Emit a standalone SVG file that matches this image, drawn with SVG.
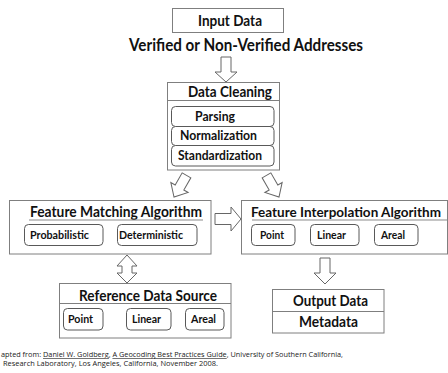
<svg xmlns="http://www.w3.org/2000/svg" width="448" height="373" viewBox="0 0 448 373">
<style>
.box{fill:#fff;stroke:#7f7f7f;stroke-width:1}
.inner{fill:#fff;stroke:#595959;stroke-width:1}
.div{stroke:#7f7f7f;stroke-width:1}
.arr{fill:#fff;stroke:#666;stroke-width:1;stroke-linejoin:miter}
.t{font-family:Lato,"Liberation Sans",sans-serif;font-weight:bold;fill:#111}
.big{font-size:15px}
.mid{font-size:13px}
.sm{font-size:11.5px}
.foot{font-family:"Open Sans","Liberation Sans",sans-serif;font-size:6.3px;fill:#222}
.ul{stroke:#8c8c8c;stroke-width:1.2}
</style>
<rect width="448" height="373" fill="#fff"/>
<g id="connectors">
<polygon class="arr" points="221,57 231,57 231,72 237,72 226,82 215,72 221,72"/>
<polygon class="arr" transform="translate(174,197) rotate(30)" points="-5,-25 5,-25 5,-11 10,-11 0,0 -10,-11 -5,-11"/>
<polygon class="arr" transform="translate(279,197) rotate(-30)" points="-5,-25 5,-25 5,-11 10,-11 0,0 -10,-11 -5,-11"/>
<polygon class="arr" points="215,213.5 231,213.5 231,207 241,219 231,231 231,224.5 215,224.5"/>
<polygon class="arr" points="127,255 137,266 132,266 132,273 137,273 127,283 117,273 122,273 122,266 117,266"/>
<polygon class="arr" points="320,258 330,258 330,273 336,273 325,284 314,273 320,273"/>
</g>
<g id="input-data">
<rect class="box" x="172.5" y="8.5" width="111" height="24"/>
<text class="t big" x="198" y="26" textLength="64" lengthAdjust="spacingAndGlyphs">Input Data</text>
</g>
<g id="addresses-label">
<text class="t" font-size="16.5" x="129" y="51" textLength="234" lengthAdjust="spacingAndGlyphs">Verified or Non-Verified Addresses</text>
</g>
<g id="data-cleaning">
<rect class="box" x="167.5" y="82.5" width="112" height="87.5"/>
<line class="div" x1="167.5" y1="100.5" x2="279.5" y2="100.5"/>
<text class="t big" x="188" y="97" textLength="84" lengthAdjust="spacingAndGlyphs">Data Cleaning</text>
<rect class="inner" x="171.5" y="106.5" width="102.5" height="20" rx="4"/>
<text class="t mid" x="195" y="120.5" textLength="40" lengthAdjust="spacingAndGlyphs">Parsing</text>
<rect class="inner" x="171.5" y="126.5" width="102.5" height="19" rx="4"/>
<text class="t mid" x="180" y="139.5" textLength="77" lengthAdjust="spacingAndGlyphs">Normalization</text>
<rect class="inner" x="171.5" y="145.5" width="102.5" height="20.5" rx="4"/>
<text class="t mid" x="178" y="159.5" textLength="84" lengthAdjust="spacingAndGlyphs">Standardization</text>
</g>
<g id="feature-matching">
<rect class="box" x="9.5" y="200.5" width="201.5" height="53.5"/>
<text class="t big" x="30" y="216.5" textLength="172" lengthAdjust="spacingAndGlyphs">Feature Matching Algorithm</text>
<line class="ul" x1="29" y1="220" x2="203" y2="220"/>
<rect class="inner" x="24.5" y="224.5" width="78.5" height="21" rx="4"/>
<text class="t sm" x="30" y="239" textLength="59" lengthAdjust="spacingAndGlyphs">Probabilistic</text>
<rect class="inner" x="117.5" y="224.5" width="79.5" height="21" rx="4"/>
<text class="t sm" x="119" y="239" textLength="64" lengthAdjust="spacingAndGlyphs">Deterministic</text>
</g>
<g id="feature-interpolation">
<rect class="box" x="241.5" y="200.5" width="206" height="53.5"/>
<text class="t" font-size="13.5" x="251" y="216.5" textLength="190" lengthAdjust="spacingAndGlyphs">Feature Interpolation Algorithm</text>
<line class="ul" x1="252" y1="220" x2="447" y2="220"/>
<rect class="inner" x="251.5" y="224.5" width="43.5" height="21" rx="4"/>
<text class="t sm" x="260" y="239" textLength="24" lengthAdjust="spacingAndGlyphs">Point</text>
<rect class="inner" x="310.5" y="224.5" width="48.5" height="21" rx="4"/>
<text class="t sm" x="317" y="239" textLength="29" lengthAdjust="spacingAndGlyphs">Linear</text>
<rect class="inner" x="374.5" y="224.5" width="43.5" height="21" rx="4"/>
<text class="t sm" x="381" y="239" textLength="24" lengthAdjust="spacingAndGlyphs">Areal</text>
</g>
<g id="reference-data-source">
<rect class="box" x="59.5" y="283.5" width="171.5" height="54.5"/>
<line class="div" x1="59.5" y1="303.5" x2="231" y2="303.5"/>
<text class="t big" x="79" y="300.5" textLength="138" lengthAdjust="spacingAndGlyphs">Reference Data Source</text>
<rect class="inner" x="63.5" y="308.5" width="39.5" height="21.5" rx="4"/>
<text class="t sm" x="68" y="322.5" textLength="25" lengthAdjust="spacingAndGlyphs">Point</text>
<rect class="inner" x="126.5" y="308.5" width="44.5" height="21.5" rx="4"/>
<text class="t sm" x="132" y="322.5" textLength="29" lengthAdjust="spacingAndGlyphs">Linear</text>
<rect class="inner" x="185.5" y="308.5" width="38.5" height="21.5" rx="4"/>
<text class="t sm" x="191" y="322.5" textLength="25" lengthAdjust="spacingAndGlyphs">Areal</text>
</g>
<g id="output-data">
<rect class="box" x="272.5" y="289.5" width="111.5" height="43.5"/>
<line class="div" x1="272.5" y1="311.5" x2="384" y2="311.5"/>
<text class="t big" x="293" y="305.5" textLength="75" lengthAdjust="spacingAndGlyphs">Output Data</text>
<text class="t big" x="299" y="327" textLength="59" lengthAdjust="spacingAndGlyphs">Metadata</text>
</g>
<g id="footer">
<text class="foot" x="1" y="357" textLength="342" lengthAdjust="spacingAndGlyphs">apted from: <tspan text-decoration="underline">Daniel W. Goldberg</tspan>, <tspan text-decoration="underline">A Geocoding Best Practices Guide</tspan>, University of Southern California,</text>
<text class="foot" x="3" y="365.5" textLength="215" lengthAdjust="spacingAndGlyphs">Research Laboratory, Los Angeles, California, November 2008.</text>
</g>
</svg>
